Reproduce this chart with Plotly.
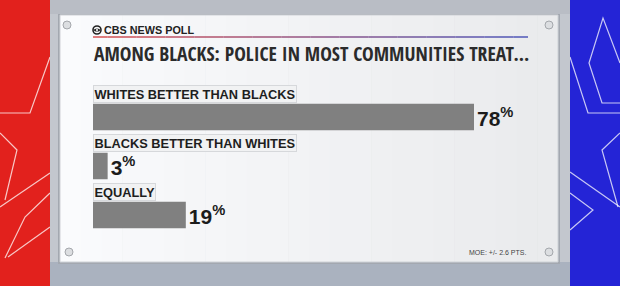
import plotly.graph_objects as go

# ---- data ----
categories = ["WHITES BETTER THAN BLACKS", "BLACKS BETTER THAN WHITES", "EQUALLY"]
values = [78, 3, 19]
title_text = "AMONG BLACKS: POLICE IN MOST COMMUNITIES TREAT..."
source_text = "CBS NEWS POLL"
note_text = "MOE: +/- 2.6 PTS."

W, H = 620, 286


def px(x):
    return x / W


def py(y):
    return 1 - y / H


def rect(x0, y0, x1, y1, fill, line=None, lw=0, layer="below"):
    return dict(type="rect", xref="paper", yref="paper",
                x0=px(x0), x1=px(x1), y0=py(y1), y1=py(y0),
                fillcolor=fill, line=dict(color=line or fill, width=lw), layer=layer)


def path(points, color="rgba(255,255,255,0.75)", width=1.2):
    d = "M " + " L ".join(f"{px(x):.5f},{py(y):.5f}" for x, y in points)
    return dict(type="path", xref="paper", yref="paper", path=d,
                line=dict(color=color, width=width), layer="below")


shapes = []
# background sides
shapes.append(rect(0, 0, 60, H, "#e2211d"))
shapes.append(rect(560, 0, W, H, "#2424d6"))
# star outlines left
for pts in [
    [(0, 113), (30, 113), (50, 57)],
    [(0, 133), (17, 150), (5, 200)],
    [(0, 207), (50, 173)],
    [(5, 258), (25, 217), (50, 193)],
    [(8, 257), (50, 227)],
]:
    shapes.append(path(pts))
# star outlines right
for pts in [
    [(570, 57), (588, 113), (620, 113)],
    [(620, 63), (603, 18), (589, 63), (602, 103), (620, 103)],
    [(620, 133), (602, 150), (618, 207)],
    [(570, 172), (620, 207)],
    [(570, 193), (593, 210), (570, 230)],
]:
    shapes.append(path(pts))
# middle silver backdrop
shapes.append(rect(50, 0, 570, H, "#c3c7ce"))
shapes.append(rect(50, 0, 570, 14, "#b9bdc5"))
shapes.append(rect(50, 262, 570, H, "#aab2bf"))
# panel shadow + panel with soft horizontal gradient (white -> light grey)
shapes.append(rect(58, 14, 560, 264, "#a3a8b0"))
steps = 24
for i in range(steps):
    t = i / (steps - 1)
    c = int(250 - 16 * t)
    xa = 60 + (558 - 60) * i / steps
    xb = 60 + (558 - 60) * (i + 1) / steps + 0.6
    shapes.append(rect(xa, 15, min(xb, 558), 262, f"rgb({c},{c + 1},{c + 3 if c + 3 <= 255 else 255})"))
shapes.append(dict(type="rect", xref="paper", yref="paper",
                   x0=px(60), x1=px(558), y0=py(262), y1=py(15),
                   fillcolor="rgba(0,0,0,0)", line=dict(color="#cfd2d7", width=1), layer="below"))
# screws
for cx, cy in [(67, 25), (549, 25), (69, 252), (549, 252)]:
    shapes.append(dict(type="circle", xref="paper", yref="paper",
                       x0=px(cx - 4), x1=px(cx + 4), y0=py(cy + 4), y1=py(cy - 4),
                       fillcolor="#dcdee1", line=dict(color="#a4a7ac", width=1), layer="below"))
# gradient rule under source line (red -> blue)
n = 30
x_start, x_end = 93, 528
for i in range(n):
    t = i / (n - 1)
    r = int(205 * (1 - t) + 40 * t)
    g = int(40 * (1 - t) + 50 * t)
    b = int(40 * (1 - t) + 170 * t)
    xa = x_start + (x_end - x_start) * i / n
    xb = x_start + (x_end - x_start) * (i + 1) / n
    shapes.append(dict(type="line", xref="paper", yref="paper",
                       x0=px(xa), x1=px(xb), y0=py(37), y1=py(37),
                       line=dict(color=f"rgb({r},{g},{b})", width=1.2), layer="below"))
# CBS eye logo
shapes.append(dict(type="circle", xref="paper", yref="paper",
                   x0=px(93), x1=px(101), y0=py(34), y1=py(26),
                   fillcolor="#f9fafb", line=dict(color="#222", width=1.6), layer="above"))
shapes.append(dict(type="circle", xref="paper", yref="paper",
                   x0=px(94), x1=px(100), y0=py(31.6), y1=py(28.4),
                   fillcolor="#222", line=dict(color="#222", width=0), layer="above"))
shapes.append(dict(type="circle", xref="paper", yref="paper",
                   x0=px(95.9), x1=px(98.1), y0=py(31.1), y1=py(28.9),
                   fillcolor="#f9fafb", line=dict(color="#f9fafb", width=0), layer="above"))

fig = go.Figure()
fig.add_trace(go.Bar(
    x=values, y=list(range(len(values))), orientation="h",
    width=0.54, marker=dict(color="#808080", line=dict(width=0)),
    text=[f"{v}<sup>%</sup>" for v in values], textposition="outside",
    textfont=dict(family="Liberation Sans, Arial, sans-serif", size=21, color="#1c1c1c", weight="bold"),
    cliponaxis=False, hoverinfo="skip",
))

annotations = []
for i, c in enumerate(categories):
    annotations.append(dict(
        x=0, y=i - 0.46, xref="x", yref="y", xanchor="left", yanchor="middle",
        text=f"<b>{c}</b>", showarrow=False,
        font=dict(family="Liberation Sans, Arial, sans-serif", size=12.8, color="#1e1e1e"),
        bgcolor="#f1f2f3", bordercolor="#d6d8db", borderwidth=1, borderpad=0.5,
    ))
annotations.append(dict(
    x=px(101.5), y=py(30), xref="paper", yref="paper", xanchor="left", yanchor="middle",
    text=f"<b>{source_text}</b>", showarrow=False,
    font=dict(family="Liberation Sans, Arial, sans-serif", size=10.8, color="#222"),
))
annotations.append(dict(
    x=px(92), y=py(53), xref="paper", yref="paper", xanchor="left", yanchor="middle",
    text=f"<b>{title_text}</b>", showarrow=False,
    font=dict(family="Open Sans Condensed, DejaVu Sans Condensed, sans-serif",
              size=19.6, color="#2b2b2b"),
))
annotations.append(dict(
    x=px(528), y=py(252), xref="paper", yref="paper", xanchor="right", yanchor="middle",
    text=note_text, showarrow=False,
    font=dict(family="Liberation Sans, Arial, sans-serif", size=7, color="#444"),
))

fig.update_layout(
    width=W, height=H, margin=dict(l=0, r=0, t=0, b=0),
    paper_bgcolor="#c3c7ce", plot_bgcolor="rgba(0,0,0,0)",
    showlegend=False, shapes=shapes, annotations=annotations,
    xaxis=dict(range=[0, 100], domain=[px(93), px(93 + 100 * 381 / 78)],
               showgrid=False, zeroline=False, showticklabels=False, fixedrange=True),
    yaxis=dict(range=[2.5, -0.5], domain=[py(239.5), py(92.5)],
               showgrid=False, zeroline=False, showticklabels=False, fixedrange=True),
)

fig.write_html("out.html")
